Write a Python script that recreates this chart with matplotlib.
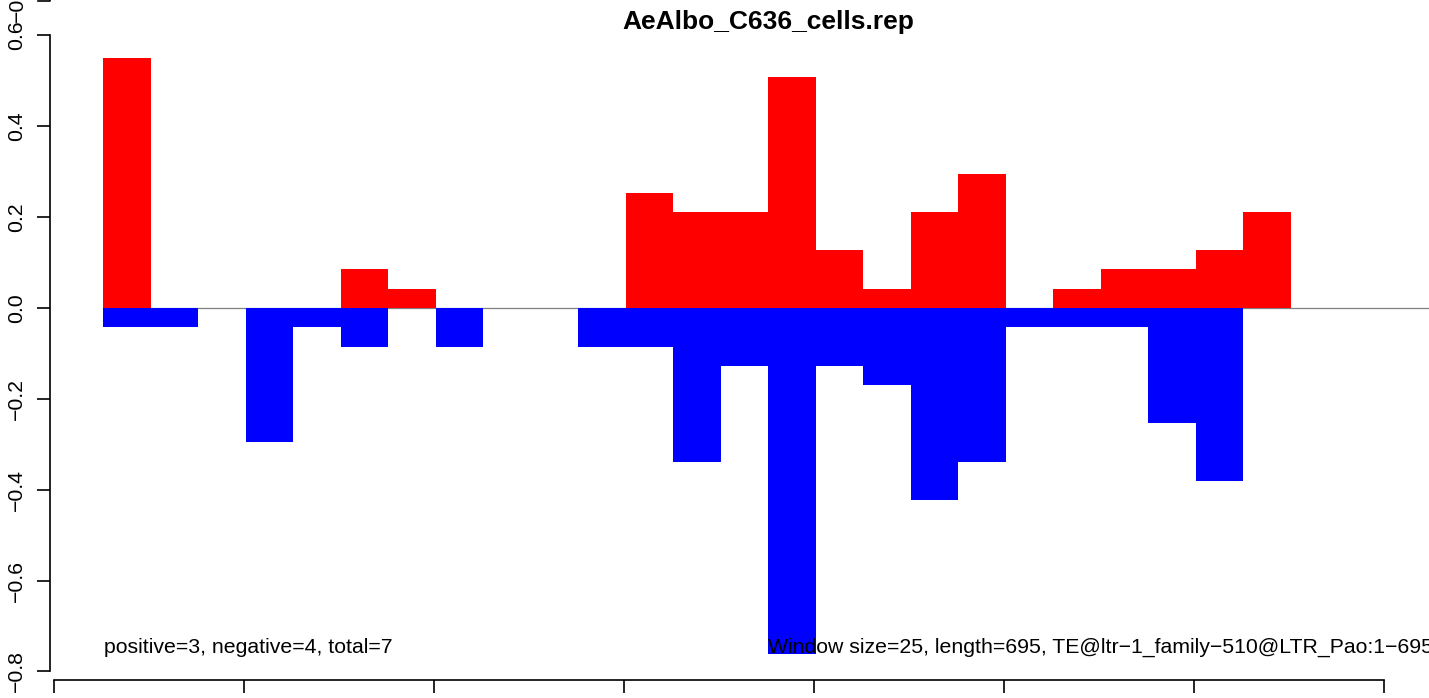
import numpy as np
import matplotlib
matplotlib.use("Agg")
import matplotlib.pyplot as plt

plt.rcParams['font.family'] = ['Liberation Sans', 'DejaVu Sans']

# window data (25 windows of size 25)
window_start = np.arange(25) * 25 + 26
window_size = 25
pos_vals = [0.550, 0, 0, 0, 0, 0.085, 0.042, 0, 0, 0, 0, 0.254, 0.212, 0.212, 0.508,
            0.127, 0.042, 0.212, 0.296, 0, 0.042, 0.085, 0.085, 0.127, 0.212]
neg_vals = [-0.042, -0.042, 0, -0.296, -0.042, -0.085, 0, -0.085, 0, 0, -0.085, -0.085, -0.339, -0.127,
            -0.762, -0.127, -0.169, -0.423, -0.339, -0.042, -0.042, -0.042, -0.254, -0.381, 0]

title = "AeAlbo_C636_cells.rep"
count_text = "positive=3, negative=4, total=7"
info_text = "Window size=25, length=695, TE@ltr\u22121_family\u2212510@LTR_Pao:1\u2212695"
y_ticks = [-0.8, -0.6, -0.4, -0.2, 0.0, 0.2, 0.4, 0.6]
x_ticks = [0, 100, 200, 300, 400, 500, 600, 700]

W, H = 1429, 698
fig = plt.figure(figsize=(W / 100, H / 100), dpi=100)
# axes box in pixels: left=50 (y axis line), bottom=680 (x axis line), right/top = image edge
ax = fig.add_axes([50 / W, (H - 680) / H, (W - 50) / W, 680 / H])
ax.set_xlim(-2.1, 723.7)
ax.set_ylim(-0.8188, 0.678)

ax.plot([26, 740], [0, 0], color='#808080', lw=0.9, zorder=1)
ax.bar(window_start, pos_vals, width=window_size, align='edge', color='#ff0000', lw=0, zorder=2)
ax.bar(window_start, neg_vals, width=window_size, align='edge', color='#0000ff', lw=0, zorder=2)

ax.text(26.3, -0.748, count_text, fontsize=15.3, ha='left', va='center', zorder=3)
ax.text(376, -0.748, info_text, fontsize=15.3, ha='left', va='center', zorder=3)
fig.text(768 / W, 1 - 22 / H, title, fontsize=19, fontweight='bold', ha='center', va='center')

for s in ['top', 'right']:
    ax.spines[s].set_visible(False)
ax.spines['left'].set_bounds(-0.8, 0.6)
ax.spines['bottom'].set_bounds(0, 700)
for s in ['left', 'bottom']:
    ax.spines[s].set_linewidth(1.2)

ax.set_yticks(y_ticks)
ax.set_yticklabels([f"{v:.1f}".replace('-', '\u2212') for v in y_ticks],
                   rotation=90, va='center', fontsize=15.3)
ax.set_xticks(x_ticks)
ax.set_xticklabels([])
ax.tick_params(axis='both', direction='out', length=9.4, width=1.2, pad=8)

# remnant of the panel above (its lowest tick and label)
ax.plot([-2.1, -2.1, -8.4], [0.678, 0.676, 0.676], color='black', lw=1.2, clip_on=False)
ax.text(-19.0, 0.676, "\u22120.8", rotation=90, ha='center', va='center', fontsize=15.3, clip_on=False)

fig.savefig("out.png", dpi=100)
